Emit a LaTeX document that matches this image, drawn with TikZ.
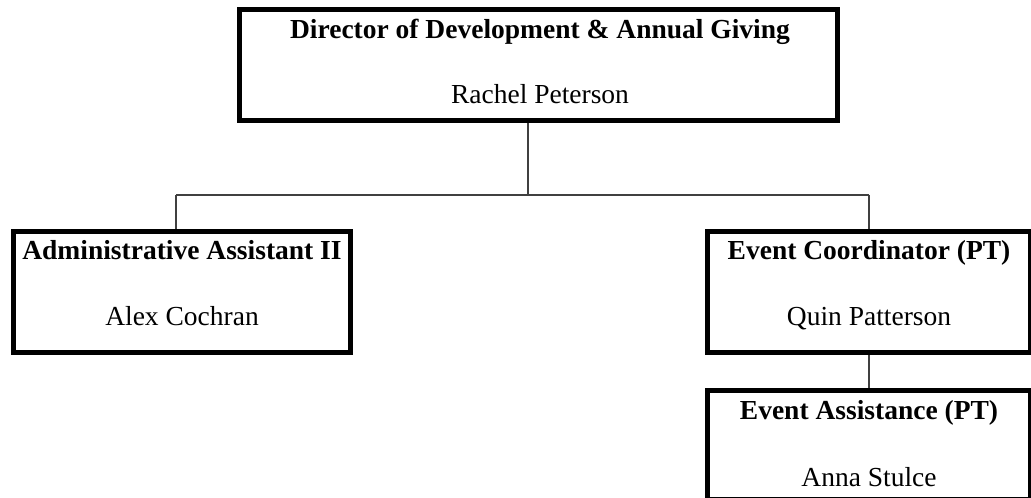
\documentclass[tikz,border=0pt]{standalone}
\usepackage{fontspec}
\setmainfont{Liberation Serif}
\begin{document}
\begin{tikzpicture}[x=1bp,y=-1bp,
  box/.style={draw=black, line width=5bp, rectangle, inner sep=0pt},
  ttl/.style={anchor=base, inner sep=0pt, font=\fontsize{27.5bp}{32bp}\selectfont\bfseries},
  nm/.style={anchor=base, inner sep=0pt, font=\fontsize{27.5bp}{32bp}\selectfont},
  conn/.style={draw=black!75, line width=1.3bp}]
\useasboundingbox (0,0) rectangle (1031,498);
\clip (0,0) rectangle (1031,498);
% boxes
\node[box, minimum width=598bp, minimum height=111bp] (dir) at (538.5,65) {};
\node[box, minimum width=337bp, minimum height=121bp] (adm) at (182,292) {};
\node[box, minimum width=323bp, minimum height=121bp] (evc) at (869,292) {};
\node[box, minimum width=323bp, minimum height=109bp] (eva) at (869,445) {};
% texts
\node[ttl] (dirT) at (540,38.5) {Director of Development \& Annual Giving};
\node[nm]  (dirN) at (540,104) {Rachel Peterson};
\node[ttl] (admT) at (182,259.5) {Administrative Assistant II};
\node[nm]  (admN) at (182,326) {Alex Cochran};
\node[ttl] (evcT) at (869,259.5) {Event Coordinator (PT)};
\node[nm]  (evcN) at (869,326) {Quin Patterson};
\node[ttl] (evaT) at (869,419) {Event Assistance (PT)};
\node[nm]  (evaN) at (869,486) {Anna Stulce};
% connectors
\coordinate (jn) at (528,195);
\coordinate (jl) at (176,195);
\coordinate (jr) at (869,195);
\draw[conn] (dir.south -| jn) -- (jn);
\draw[conn] (jl) -- (jr);
\draw[conn] (jl) -- (jl |- adm.north);
\draw[conn] (jr) -- (evc.north);
\draw[conn] (evc.south) -- (eva.north);
\end{tikzpicture}
\end{document}
